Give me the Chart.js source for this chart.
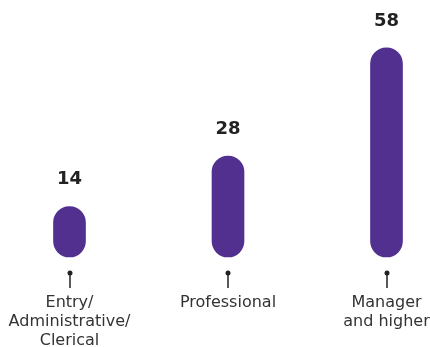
<!DOCTYPE html>
<html>
<head>
<meta charset="utf-8">
<script src="https://cdn.jsdelivr.net/npm/chart.js@4"></script>
<style>
  html, body { margin: 0; padding: 0; background: #fff; }
  #chart-container { width: 430px; height: 347px; }
</style>
</head>
<body>
<div id="chart-container">
  <canvas id="myChart"></canvas>
</div>
<script>
const categories = [['Entry/', 'Administrative/', 'Clerical'], 'Professional', ['Manager', 'and higher']];
const values = [14, 28, 58];

const barColor = '#52308f';
const textColor = '#222222';
const labelColor = '#333333';

// bold number above each bar
const valueLabels = {
  id: 'valueLabels',
  afterDatasetsDraw(chart) {
    const ctx = chart.ctx;
    const meta = chart.getDatasetMeta(0);
    ctx.save();
    ctx.font = 'bold 18px "DejaVu Sans", Verdana, sans-serif';
    ctx.fillStyle = textColor;
    ctx.textAlign = 'center';
    ctx.textBaseline = 'middle';
    meta.data.forEach((bar, i) => {
      ctx.fillText(String(values[i]), bar.x, bar.y - 27);
    });
    ctx.restore();
  }
};

// small pin marker between each bar and its label
const pins = {
  id: 'pins',
  afterDraw(chart) {
    const ctx = chart.ctx;
    const xScale = chart.scales.x;
    const base = chart.chartArea.bottom;
    ctx.save();
    ctx.strokeStyle = textColor;
    ctx.fillStyle = textColor;
    ctx.lineWidth = 1.5;
    xScale.ticks.forEach((t, i) => {
      const x = Math.round(xScale.getPixelForTick(i));
      ctx.beginPath();
      ctx.moveTo(x, base + 16);
      ctx.lineTo(x, base + 31);
      ctx.stroke();
      ctx.beginPath();
      ctx.arc(x, base + 16, 2.5, 0, Math.PI * 2);
      ctx.fill();
    });
    ctx.restore();
  }
};

const ctx = document.getElementById('myChart').getContext('2d');
new Chart(ctx, {
  type: 'bar',
  data: {
    labels: categories,
    datasets: [{
      data: values,
      backgroundColor: barColor,
      borderWidth: 0,
      borderRadius: 16,
      borderSkipped: false,
      barThickness: 32,
      clip: false
    }]
  },
  options: {
    responsive: true,
    maintainAspectRatio: false,
    animation: false,
    layout: { padding: { left: 69.5, right: 43.5, top: 0, bottom: 0 } },
    plugins: {
      legend: { display: false },
      tooltip: { enabled: false }
    },
    scales: {
      x: {
        offset: false,
        grid: { display: false, drawTicks: false },
        border: { display: false },
        ticks: {
          autoSkip: false,
          maxRotation: 0,
          padding: 36,
          color: labelColor,
          font: { family: '"DejaVu Sans", Verdana, sans-serif', size: 16, lineHeight: 1.2 }
        },
        afterFit(scale) {
          scale.height = 90;
          // labels may overhang the plot edges
          scale.paddingLeft = 0;
          scale.paddingRight = 0;
        }
      },
      y: {
        display: false,
        min: 0,
        max: 71.3
      }
    }
  },
  plugins: [valueLabels, pins]
});
</script>
</body>
</html>
